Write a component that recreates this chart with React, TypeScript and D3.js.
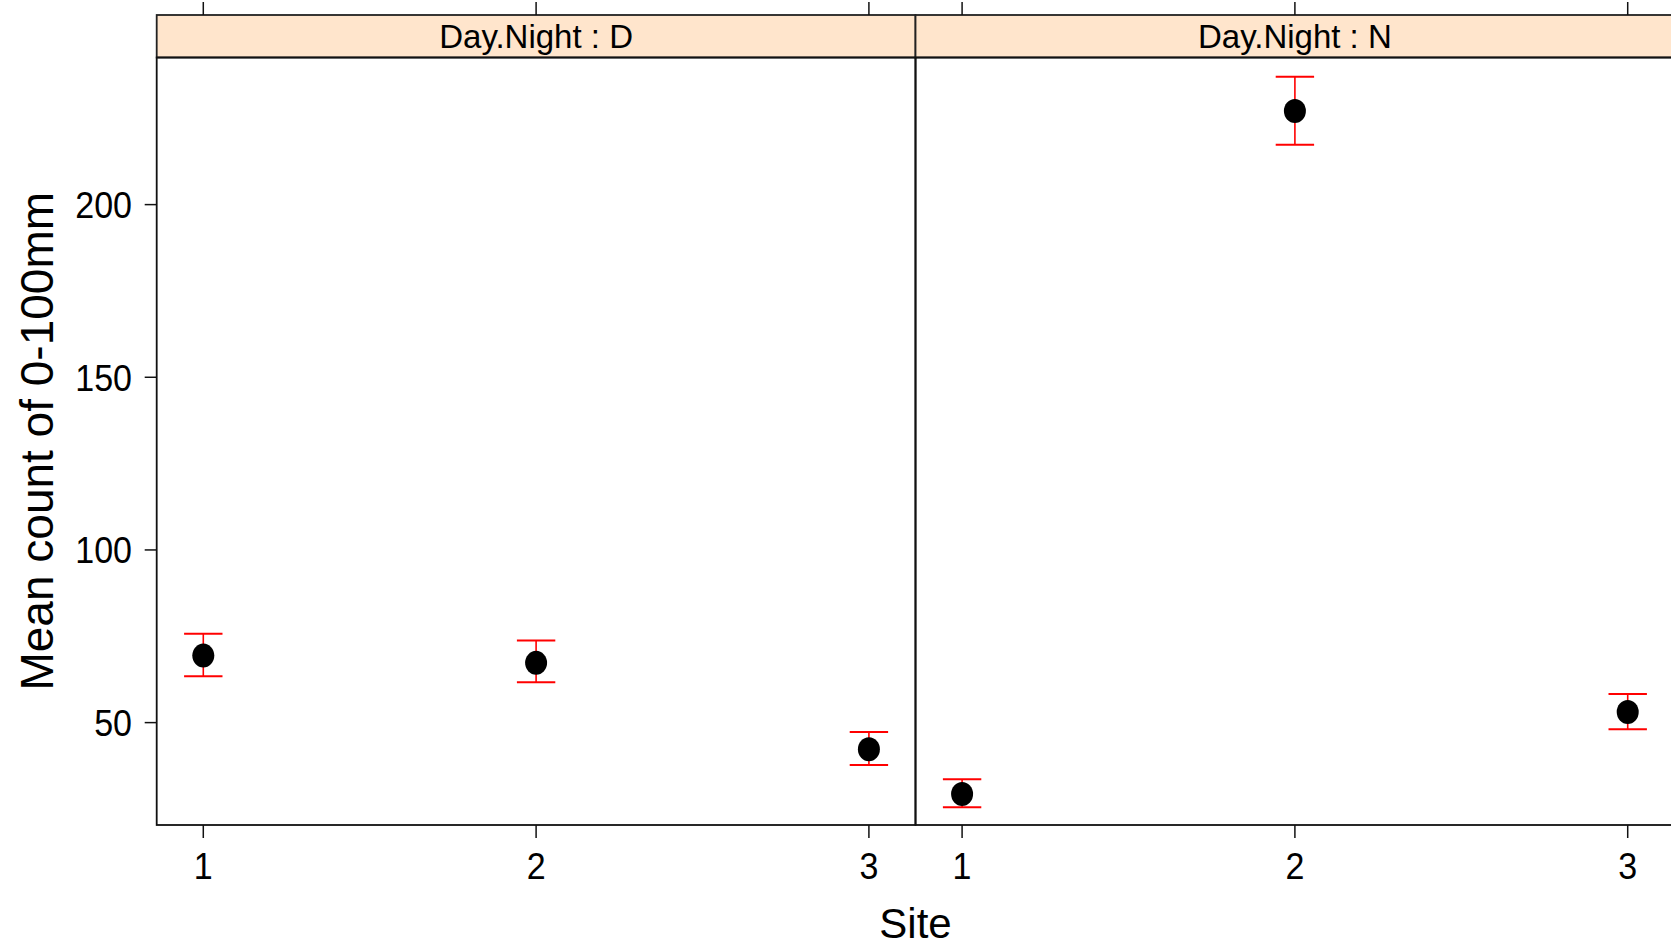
import React, { useEffect, useRef } from "react";
import * as d3 from "d3";

const sites = ["1", "2", "3"];
const panelNames = ["Day.Night : D", "Day.Night : N"];

// Day panel
const dayMean = [69.4, 67.3, 42.3];
const dayLower = [63.4, 61.7, 37.7];
const dayUpper = [75.7, 73.8, 47.3];

// Night panel
const nightMean = [29.3, 227.1, 53.1];
const nightLower = [25.5, 217.3, 48.1];
const nightUpper = [33.6, 237.0, 58.3];

const yTicks = [50, 100, 150, 200];

const App = () => {
  const svgRef = useRef<SVGSVGElement>(null);
  const width = 1671;
  const height = 948;

  useEffect(() => {
    const svg = d3.select(svgRef.current);
    svg.selectAll("*").remove();
    const font = "'Liberation Sans', Arial, Helvetica, sans-serif";
    const squeeze = 0.92; // tick labels are a bit narrower in the original

    const left = 156.7;
    const panelW = 758.8;
    const top = 57.5;
    const bottom = 825;
    const stripTop = 15;

    const yScale = d3.scaleLinear().domain([20.35, 242.6]).range([bottom, top]);

    const panels = [
      { name: panelNames[0], mean: dayMean, lo: dayLower, hi: dayUpper },
      { name: panelNames[1], mean: nightMean, lo: nightLower, hi: nightUpper },
    ];

    panels.forEach((p, pi) => {
      const x0 = left + pi * panelW;
      const xScale = d3
        .scaleLinear()
        .domain([0.86, 3.14])
        .range([x0, x0 + panelW]);
      const g = svg.append("g");

      // strip
      g.append("rect")
        .attr("x", x0)
        .attr("y", stripTop)
        .attr("width", panelW)
        .attr("height", top - stripTop)
        .attr("fill", "#ffe5cc")
        .attr("stroke", "#222")
        .attr("stroke-width", 1.8);
      g.append("text")
        .attr("x", x0 + panelW / 2)
        .attr("y", 48)
        .attr("text-anchor", "middle")
        .attr("font-family", font)
        .attr("font-size", 33)
        .attr("fill", "black")
        .text(p.name);

      // panel box
      g.append("rect")
        .attr("x", x0)
        .attr("y", top)
        .attr("width", panelW)
        .attr("height", bottom - top)
        .attr("fill", "none")
        .attr("stroke", "#111")
        .attr("stroke-width", 1.8);

      // x ticks top and bottom
      sites.forEach((s, i) => {
        const x = xScale(i + 1);
        g.append("line")
          .attr("x1", x).attr("x2", x)
          .attr("y1", bottom).attr("y2", bottom + 13)
          .attr("stroke", "#111").attr("stroke-width", 1.5);
        g.append("line")
          .attr("x1", x).attr("x2", x)
          .attr("y1", 2).attr("y2", stripTop)
          .attr("stroke", "#111").attr("stroke-width", 1.5);
        g.append("text")
          .attr("transform", `translate(${x}, 879) scale(${squeeze}, 1)`)
          .attr("text-anchor", "middle")
          .attr("font-family", font)
          .attr("font-size", 37)
          .attr("fill", "black")
          .text(s);
      });

      // error bars
      const cap = 19.2;
      p.mean.forEach((m, i) => {
        const x = xScale(i + 1);
        g.append("line")
          .attr("x1", x).attr("x2", x)
          .attr("y1", yScale(p.hi[i])).attr("y2", yScale(p.lo[i]))
          .attr("stroke", "#ff0000").attr("stroke-width", 1.6);
        [p.hi[i], p.lo[i]].forEach((v) => {
          g.append("line")
            .attr("x1", x - cap).attr("x2", x + cap)
            .attr("y1", yScale(v)).attr("y2", yScale(v))
            .attr("stroke", "#ff0000").attr("stroke-width", 2);
        });
        g.append("ellipse")
          .attr("cx", x)
          .attr("cy", yScale(m))
          .attr("rx", 11)
          .attr("ry", 12)
          .attr("fill", "black");
      });
    });

    // y axis (left panel only)
    yTicks.forEach((t) => {
      const y = yScale(t);
      svg.append("line")
        .attr("x1", left - 12).attr("x2", left)
        .attr("y1", y).attr("y2", y)
        .attr("stroke", "#111").attr("stroke-width", 1.5);
      svg.append("text")
        .attr("transform", `translate(132, ${y}) scale(${squeeze}, 1)`)
        .attr("dy", "0.36em")
        .attr("text-anchor", "end")
        .attr("font-family", font)
        .attr("font-size", 37)
        .attr("fill", "black")
        .text(t);
    });

    svg.append("text")
      .attr("transform", `translate(53, ${(top + bottom) / 2}) rotate(-90)`)
      .attr("text-anchor", "middle")
      .attr("font-family", font)
      .attr("font-size", 46)
      .attr("fill", "black")
      .text("Mean count of 0-100mm");

    svg.append("text")
      .attr("x", left + panelW)
      .attr("y", 938)
      .attr("text-anchor", "middle")
      .attr("font-family", font)
      .attr("font-size", 42)
      .attr("fill", "black")
      .text("Site");
  }, []);

  return (
    <svg
      ref={svgRef}
      width={width}
      height={height}
      style={{ position: "absolute", left: 0, top: 0, background: "white" }}
    ></svg>
  );
};

export default App;
